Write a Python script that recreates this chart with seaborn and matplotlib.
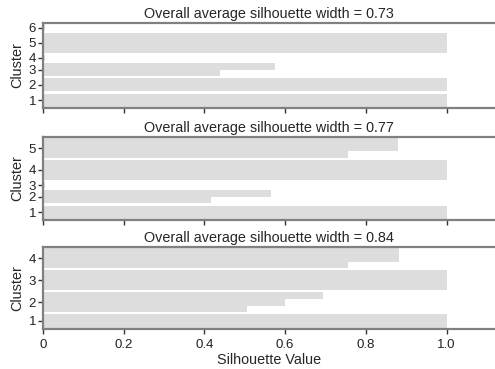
import numpy as np
import pandas as pd
import matplotlib
matplotlib.use("Agg")
import matplotlib.pyplot as plt
import seaborn as sns

# ---- data (bottom-to-top sample order within each panel) ----
titles = ["Overall average silhouette width = 0.73",
          "Overall average silhouette width = 0.77",
          "Overall average silhouette width = 0.84"]

clusters_k6 = [1, 1, 2, 2, 3, 3, 4, 5, 5, 5, 6]
values_k6 = [1.0, 1.0, 1.0, 1.0, 0.438, 0.574, 0.005, 1.0, 1.0, 1.0, 0.005]

clusters_k5 = [1, 1, 2, 2, 3, 4, 4, 4, 5, 5, 5]
values_k5 = [1.0, 1.0, 0.416, 0.566, 0.005, 1.0, 1.0, 1.0, 0.756, 0.879, 0.879]

clusters_k4 = [1, 1, 2, 2, 2, 3, 3, 3, 4, 4, 4]
values_k4 = [1.0, 1.0, 0.505, 0.599, 0.693, 1.0, 1.0, 1.0, 0.756, 0.883, 0.883]

x_ticks = [0, 0.2, 0.4, 0.6, 0.8, 1.0]
x_tick_labels = ["0", "0.2", "0.4", "0.6", "0.8", "1.0"]

panels = [(clusters_k6, values_k6), (clusters_k5, values_k5), (clusters_k4, values_k4)]

# ---- style ----
sns.set_style("ticks")
plt.rcParams["font.family"] = ["Liberation Sans", "DejaVu Sans"]

W, H = 495, 369
fig = plt.figure(figsize=(W / 100, H / 100), dpi=100)

axes_px = [(23, 108), (137, 220), (247, 329)]
left_px = 43
x_max = (W - left_px) / 403.5

spine_col = "#808080"
bar_col = "#dddddd"
GAP = 0.32
PAD = 0.22


def slot_positions(clusters):
    pos, y, prev = [], 0.0, None
    for c in clusters:
        if prev is not None:
            y += 1.0 + (GAP if c != prev else 0.0)
        pos.append(round(y, 4))
        prev = c
    return pos


for i, ((clusters, values), (top, bot)) in enumerate(zip(panels, axes_px)):
    ax = fig.add_axes([left_px / W, 1 - bot / H, (W - left_px) / W, (bot - top) / H])
    df = pd.DataFrame({"cluster": clusters, "value": values,
                       "pos": slot_positions(clusters)})
    sns.barplot(data=df, x="value", y="pos", orient="y", native_scale=True,
                width=1.0, color=bar_col, saturation=1, errorbar=None,
                linewidth=0, ax=ax)
    centers = df.groupby("cluster")["pos"].mean()
    ax.set_yticks(centers.values)
    ax.set_yticklabels([str(c) for c in centers.index], fontsize=9.5)
    ax.set_ylim(df["pos"].min() - 0.5 - PAD, df["pos"].max() + 0.5 + PAD)
    ax.set_xlim(0, x_max)
    ax.set_xticks(x_ticks)
    if i == 2:
        ax.set_xticklabels(x_tick_labels, fontsize=9.5)
        ax.set_xlabel("Silhouette Value", fontsize=10.4, labelpad=1.5)
    else:
        ax.set_xticklabels([])
        ax.set_xlabel("")
    ax.set_ylabel("Cluster", fontsize=10.4, labelpad=3)
    ax.set_title(titles[i], fontsize=10.4, pad=3.5)
    ax.spines["right"].set_visible(False)
    for s in ["top", "left", "bottom"]:
        ax.spines[s].set_color(spine_col)
        ax.spines[s].set_linewidth(1.6)
    ax.tick_params(axis="both", direction="out", length=3.8, width=1,
                   color="#333333", labelcolor="#222222")
    ax.tick_params(axis="y", pad=1.2)
    ax.tick_params(axis="x", pad=3.5)
    ax.set_facecolor("white")

fig.savefig("out.png", dpi=100)
